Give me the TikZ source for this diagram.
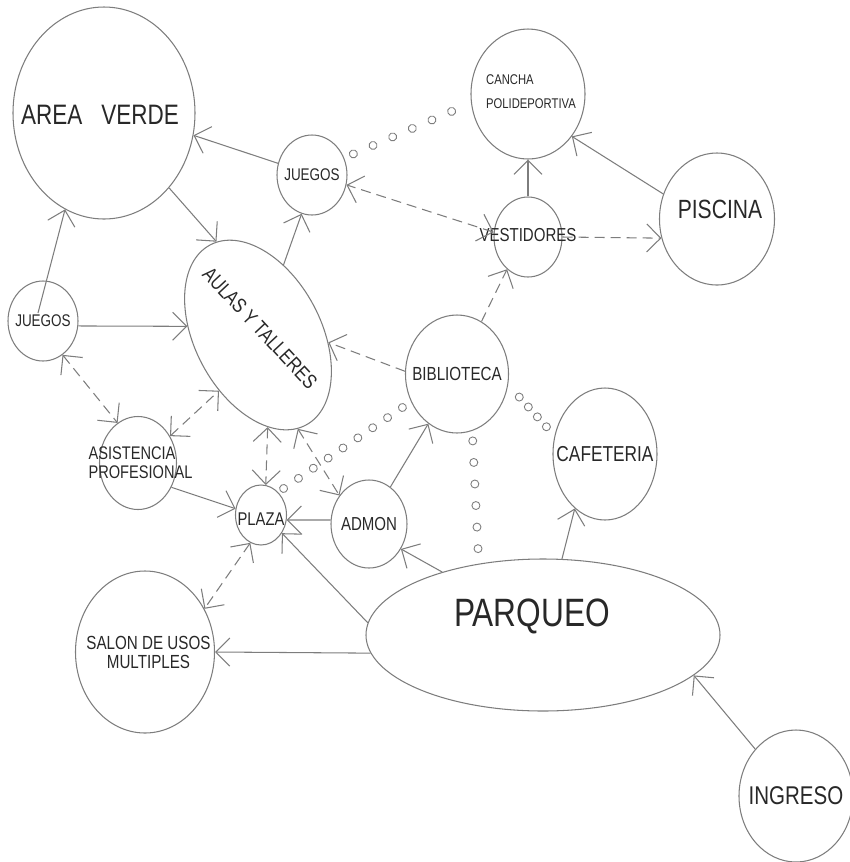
\documentclass[tikz,border=0pt]{standalone}
\usepackage{fontspec}
\newfontfamily\cadfont{Liberation Sans}[FakeStretch=0.8]
\usetikzlibrary{arrows.meta,shapes.geometric,calc,decorations.markings}
\definecolor{linegray}{RGB}{125,125,125}
\definecolor{ink}{RGB}{40,40,40}
\newcommand{\cad}[1]{\cadfont\fontsize{#1}{#1}\selectfont}

\begin{document}
\begin{tikzpicture}[x=0.2mm, y=-0.2mm,
        >={Straight Barb[length=2.8mm,width=5.6mm]},
        zone/.style={ellipse, draw=linegray, line width=0.6pt, inner sep=0pt},
        txt/.style={font=\cad{#1}, text=ink, inner sep=0pt, align=center},
        wire/.style={draw=linegray, line width=0.6pt},
        dashwire/.style={wire, dash pattern=on 2mm off 1.2mm},
        ring/.style={draw=linegray, line width=0.5pt},
        rings/.style={decorate, decoration={markings,
            mark=between positions 0 and 1 step #1 with {\draw[ring] (0,0) circle[radius=0.8mm];}}}
        ]
     \useasboundingbox (0,0) rectangle (850,862);

     % zonas
     \node[zone, minimum width=36.4mm, minimum height=42.4mm,
           label={[txt=16, xshift=-0.8mm, yshift=-0.4mm]center:AREA\hspace{3.8mm}VERDE}] (av) at (104,113) {};
     \node[zone, minimum width=14mm, minimum height=16mm, label={[txt=9.6]center:JUEGOS}] (jt) at (312,175) {};
     \node[zone, minimum width=14mm, minimum height=16mm, label={[txt=9.6]center:JUEGOS}] (jl) at (43,321) {};
     \node[zone, minimum width=40.8mm, minimum height=25.2mm, rotate=-62] (aulas) at (258,335) {};
     \node[txt=11.7, rotate=-47] (aulas-t) at (260,328) {AULAS Y TALLERES};
     \node[zone, minimum width=22.8mm, minimum height=26mm,
           label={[txt=8, align=left, xshift=0.6mm, yshift=0.4mm]center:{CANCHA\\[5.6pt]POLIDEPORTIVA}}] (cancha) at (528,94) {};
     \node[zone, minimum width=23mm, minimum height=26.4mm, label={[txt=15, xshift=0.6mm, yshift=2mm]center:PISCINA}] (piscina) at (717,219) {};
     \node[zone, minimum width=13.6mm, minimum height=16mm, label={[txt=10.7, yshift=0.4mm]center:VESTIDORES}] (vest) at (528,237) {};
     \node[zone, minimum width=20.6mm, minimum height=23.6mm, label={[txt=10.8]center:BIBLIOTECA}] (bib) at (457,374) {};
     \node[zone, minimum width=20.8mm, minimum height=26.4mm, label={[txt=12.3]center:CAFETERIA}] (cafe) at (605,454) {};
     \node[zone, minimum width=15.4mm, minimum height=18.6mm,
           label={[txt=10.4, align=left, xshift=0.5mm]center:{ASISTENCIA\\[0.6pt]PROFESIONAL}}] (asis) at (138,463) {};
     \node[zone, minimum width=10.2mm, minimum height=12mm, label={[txt=10.5, yshift=-0.8mm]center:PLAZA}] (plaza) at (261,515) {};
     \node[zone, minimum width=15.2mm, minimum height=17.6mm, label={[txt=10.7]center:ADMON}] (admon) at (369,524) {};
     \node[zone, minimum width=27.8mm, minimum height=32.4mm,
           label={[txt=10.8, xshift=0.7mm]center:{SALON DE USOS\\MULTIPLES}}] (salon) at (145,652) {};
     \node[zone, minimum width=70.8mm, minimum height=30.4mm,
           label={[txt=22.5, xshift=-2.2mm, yshift=3.8mm]center:PARQUEO}] (parqueo) at (543,635) {};
     \node[zone, minimum width=22.8mm, minimum height=26.4mm, label={[txt=14.6]center:INGRESO}] (ingreso) at (796,796) {};

     % relaciones directas
     \draw[wire, ->] (jt.161) -- (av.-14);
     \draw[wire, ->] (av.-49) -- (aulas.176);
     \draw[wire, ->] (aulas.132) -- (jt.-105);
     \draw[wire, ->] ([xshift=-1mm,yshift=1.6mm]jl.center) -- (av.-112);
     \draw[wire, ->] (jl.-8) -- (aulas.235);
     \draw[wire, ->] (vest.north) -- (cancha.south);
     \draw[wire, ->] (piscina.155) -- (cancha.-44);
     \draw[wire, ->] (asis.-36) -- (plaza.166);
     \draw[wire, ->] (admon.174) -- (plaza.-11);
     \draw[wire, ->] (admon.60) -- (bib.-120);
     \draw[wire, ->] (parqueo.148) -- (admon.-38);
     \draw[wire, ->] (parqueo.176) -- (plaza.-41);
     \draw[wire, ->] (parqueo.-174) -- (salon.east);
     \draw[wire, ->] (parqueo.76) -- (cafe.-119);
     \draw[wire, ->] (ingreso.131) -- (parqueo.-15);

     % relaciones indirectas
     \draw[dashwire, <->] (jl.-60) -- (asis.117);
     \draw[dashwire, <->] (asis.40) -- (aulas.-63);
     \draw[dashwire, ->] (bib.177) -- (aulas.56);
     \draw[dashwire, <->] (vest.172) -- (jt.-16);
     \draw[dashwire, ->] (vest.east) -- (piscina.199);
     \draw[dashwire, ->] (bib.65) -- (vest.-123);
     \draw[dashwire, <->] (aulas.-22) -- (plaza.81);
     \draw[dashwire, <->] (aulas.-5) -- (admon.136);
     \draw[dashwire, <->] (plaza.-111) -- (salon.36);

     % relaciones visuales
     \path[rings=0.1999] ($(jt.28)!2mm!(cancha.189)$) -- ($(cancha.189)!4.2mm!(jt.28)$);
     \path[rings=0.1249] ($(plaza.53)!1.3mm!(bib.211)$) -- ($(bib.211)!2mm!(plaza.53)$);
     \path[rings=0.1999] ($(bib.-75)!2mm!(parqueo.132)$) -- ($(parqueo.132)!3mm!(bib.-75)$);
     \path[rings=0.3333] ($(bib.-12)!3.3mm!(cafe.160)$) -- ($(cafe.160)!2.4mm!(bib.-12)$);

    \end{tikzpicture}
\end{document}
